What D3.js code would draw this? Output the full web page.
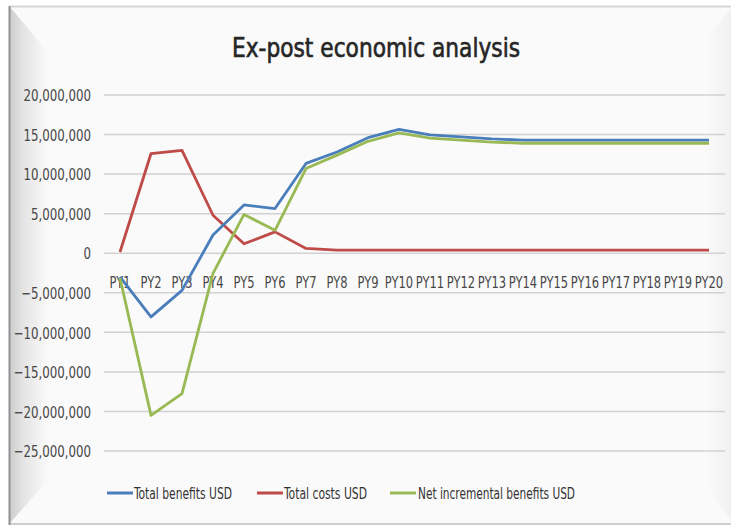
<!DOCTYPE html>
<html>
<head>
<meta charset="utf-8">
<script src="https://cdn.jsdelivr.net/npm/d3@7/dist/d3.min.js"></script>
<style>
  html, body { margin: 0; padding: 0; background: #ffffff; }
  svg { display: block; }
  .lbl { font-family: "DejaVu Sans Condensed", "Liberation Sans", sans-serif; }
</style>
</head>
<body>
<svg id="chart" width="731" height="526"></svg>
<script>
// Project years on the horizontal axis
const categories = ["PY1","PY2","PY3","PY4","PY5","PY6","PY7","PY8","PY9","PY10",
                    "PY11","PY12","PY13","PY14","PY15","PY16","PY17","PY18","PY19","PY20"];

// Annual flows in USD
const totalBenefits = [-3000000, -8050000, -4700000, 2300000, 6100000, 5650000, 11350000, 12800000, 14600000, 15650000,
                       14950000, 14700000, 14450000, 14300000, 14300000, 14300000, 14300000, 14300000, 14300000, 14300000];
const totalCosts = [150000, 12600000, 13000000, 4800000, 1200000, 2700000, 600000, 400000, 400000, 400000,
                    400000, 400000, 400000, 400000, 400000, 400000, 400000, 400000, 400000, 400000];
const netBenefits = [-3150000, -20500000, -17750000, -2550000, 4900000, 2900000, 10700000, 12400000, 14150000, 15200000,
                     14550000, 14300000, 14050000, 13900000, 13900000, 13900000, 13900000, 13900000, 13900000, 13900000];

const seriesNames = ["Total benefits USD", "Total costs USD", "Net incremental benefits USD"];
const seriesColors = ["#4a7ebb", "#be4b48", "#98b954"];
const yTicks = [20000000, 15000000, 10000000, 5000000, 0, -5000000, -10000000, -15000000, -20000000, -25000000];

const svg = d3.select("#chart");

// squeeze text horizontally so it reads like a narrow face
function condense(sel, k) {
  sel.each(function () {
    const w = this.getComputedTextLength() * k;
    d3.select(this).attr("textLength", w).attr("lengthAdjust", "spacingAndGlyphs");
  });
}

// ---- framed background panel ----
const defs = svg.append("defs");
const gl = defs.append("linearGradient").attr("id", "leftShade").attr("x1", 0).attr("x2", 1).attr("y1", 0).attr("y2", 0);
gl.append("stop").attr("offset", 0).attr("stop-color", "#cdcdcd");
gl.append("stop").attr("offset", 0.35).attr("stop-color", "#e4e4e4");
gl.append("stop").attr("offset", 1).attr("stop-color", "#fafafa");
const gr = defs.append("linearGradient").attr("id", "rightShade").attr("x1", 0).attr("x2", 1).attr("y1", 0).attr("y2", 0);
gr.append("stop").attr("offset", 0).attr("stop-color", "#fafafa");
gr.append("stop").attr("offset", 1).attr("stop-color", "#f1f1f1");

svg.append("rect").attr("x", 9).attr("y", 6).attr("width", 722).attr("height", 518)
  .attr("fill", "#fafafa");
svg.append("polygon")
  .attr("points", "10,7 48,52 48,480 10,523")
  .attr("fill", "url(#leftShade)");
svg.append("polygon")
  .attr("points", "731,8 706,38 706,485 731,520")
  .attr("fill", "url(#rightShade)");
svg.append("line").attr("x1", 9).attr("x2", 731).attr("y1", 6.5).attr("y2", 6.5)
  .attr("stroke", "#d6d6d6").attr("stroke-width", 2);
svg.append("line").attr("x1", 9).attr("x2", 731).attr("y1", 524).attr("y2", 524)
  .attr("stroke", "#cfcfcf").attr("stroke-width", 2);
svg.append("line").attr("x1", 9.5).attr("x2", 9.5).attr("y1", 6).attr("y2", 525)
  .attr("stroke", "#909090").attr("stroke-width", 2);

// ---- title ----
svg.append("text").attr("class", "lbl")
  .attr("x", 376).attr("y", 57).attr("text-anchor", "middle")
  .attr("font-size", 26).style("fill", "#262626")
  .attr("stroke", "#262626").attr("stroke-width", 0.6)
  .attr("textLength", 288).attr("lengthAdjust", "spacingAndGlyphs")
  .text("Ex-post economic analysis");

// ---- scales ----
const x = d3.scaleBand().domain(categories).range([104.5, 724.5]);
const y = d3.scaleLinear().domain([-25000000, 20000000]).range([451, 95]);

// gridlines
svg.append("g").selectAll("line").data(yTicks).join("line")
  .attr("x1", 104).attr("x2", 725)
  .attr("y1", d => y(d)).attr("y2", d => y(d))
  .attr("stroke", "#d2d2d2").attr("stroke-width", 1.5);

// y axis labels
const yAxis = d3.axisLeft(y).tickValues(yTicks).tickSize(0).tickPadding(0)
  .tickFormat(d3.format(","));
const gy = svg.append("g").attr("transform", "translate(91,0)").call(yAxis);
gy.select(".domain").remove();
gy.selectAll("text").attr("class", "lbl").attr("font-size", 16).attr("dy", "0.36em")
  .style("fill", "#474747");
condense(gy.selectAll("text"), 0.82);

// x axis labels (sit just below the zero line), drawn tall and narrow
const xAxis = d3.axisBottom(x).tickSize(0).tickPadding(0);
const gx = svg.append("g").attr("transform", `translate(0,${y(0) + 35})`).call(xAxis);
gx.select(".domain").remove();
gx.selectAll("text").attr("class", "lbl").attr("font-size", 12.8).attr("dy", "0")
  .attr("transform", "scale(1,1.22)")
  .style("fill", "#474747");

// ---- lines ----
const allSeries = [totalBenefits, totalCosts, netBenefits];
const line = d3.line().x((d, i) => x(categories[i]) + x.bandwidth() / 2).y(d => y(d));
[1, 0, 2].forEach(k => {
  svg.append("path").datum(allSeries[k])
    .attr("d", line)
    .attr("fill", "none")
    .attr("stroke", seriesColors[k])
    .attr("stroke-width", 2.8)
    .attr("stroke-linejoin", "round");
});

// ---- legend ----
const legendItems = [
  { sx: 107, tx: 134, len: 98 },
  { sx: 257, tx: 284, len: 83 },
  { sx: 390, tx: 418, len: 157 }
];
const lg = svg.append("g");
legendItems.forEach((it, i) => {
  lg.append("line").attr("x1", it.sx).attr("x2", it.sx + 26)
    .attr("y1", 493).attr("y2", 493)
    .attr("stroke", seriesColors[i]).attr("stroke-width", 3);
  lg.append("text").attr("class", "lbl")
    .attr("x", it.tx).attr("y", 499)
    .attr("font-size", 16).style("fill", "#333333")
    .attr("textLength", it.len).attr("lengthAdjust", "spacingAndGlyphs")
    .text(seriesNames[i]);
});
</script>
</body>
</html>
